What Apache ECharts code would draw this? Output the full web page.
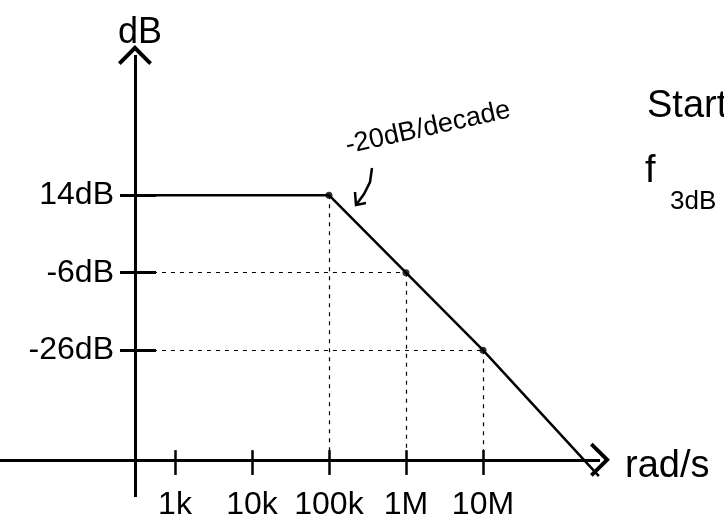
<!DOCTYPE html>
<html><head><meta charset="utf-8">
<script src="https://cdn.jsdelivr.net/npm/echarts@6/dist/echarts.min.js"></script>
<style>html,body{margin:0;padding:0;background:#fff}#c{width:724px;height:525px}</style>
</head><body><div id="c"></div>
<script>
// Data (rad/s, dB)
const freq = [302, 1e5, 1e6, 1e7, 3.2e8];
const gain = [14, 14, -6, -26, -58.5];
const cornerIdx = [1, 2, 3];
const xTicks = [1e3, 1e4, 1e5, 1e6, 1e7];
const xTickLabels = ['1k', '10k', '100k', '1M', '10M'];
const yTicks = [14, -6, -26];
const yTickLabels = ['14dB', '-6dB', '-26dB'];
const xRange = [5.34, 3.31e8];
const yRange = [-63.9, 50.2];
const axisCross = { x: 302, y: -54.3 };
const xTickSpan = [-51.8, -58.2];

const FONT = 'Liberation Sans';
const chev = 'path://M50,0 L100,52 L92,60 L50,17 L8,60 L0,52 Z';

function idxOf(arr, v) {
  for (let i = 0; i < arr.length; i++) {
    if (Math.abs(Math.log10(v) - Math.log10(arr[i])) < 1e-6) return i;
  }
  return -1;
}

const guides = [];
cornerIdx.forEach(i => {
  guides.push([{ coord: [freq[i], gain[i]] }, { coord: [freq[i], axisCross.y] }]);
  if (gain[i] !== gain[0]) guides.push([{ coord: [axisCross.x, gain[i]] }, { coord: [freq[i], gain[i]] }]);
});
const tickMarks = xTicks.map(t => [{ coord: [t, xTickSpan[0]] }, { coord: [t, xTickSpan[1]] }]);

const chart = echarts.init(document.getElementById('c'), null, { renderer: 'canvas' });
chart.setOption({
  backgroundColor: '#fff',
  animation: false,
  grid: { left: 0, right: 124, top: 55, bottom: 28, containLabel: false },
  xAxis: {
    type: 'log', logBase: 10, min: xRange[0], max: xRange[1],
    position: 'bottom', offset: -46,
    axisLine: { show: false },
    splitLine: { show: false },
    axisTick: { show: false },
    axisLabel: {
      customValues: xTicks, margin: 38, color: '#000', fontFamily: FONT, fontSize: 32,
      formatter: v => { const k = idxOf(xTicks, v); return k >= 0 ? xTickLabels[k] : ''; }
    }
  },
  yAxis: {
    type: 'value', min: yRange[0], max: yRange[1],
    position: 'left', offset: -120,
    axisLine: { show: false },
    splitLine: { show: false },
    axisTick: { show: true, inside: true, customValues: yTicks, length: 36, lineStyle: { color: '#000', width: 3 } },
    axisLabel: {
      customValues: yTicks, margin: 6, color: '#000', fontFamily: FONT, fontSize: 32,
      formatter: v => { const k = yTicks.indexOf(Math.round(v)); return k >= 0 ? yTickLabels[k] : ''; }
    }
  },
  series: [
    {
      type: 'line', clip: false, silent: true, symbol: 'none',
      data: [],
      markLine: {
        silent: true, animation: false, label: { show: false },
        symbol: ['none', chev], symbolSize: [34, 20],
        lineStyle: { color: '#000', width: 3, type: 'solid' },
        data: [
          [{ coord: [xRange[0], axisCross.y] }, { coord: [xRange[1], axisCross.y] }],
          [{ coord: [axisCross.x, yRange[0]] }, { coord: [axisCross.x, yRange[1]] }]
        ]
      }
    },
    {
      type: 'line', clip: false, silent: true, symbol: 'none',
      data: [],
      markLine: {
        silent: true, animation: false, label: { show: false },
        symbol: ['none', 'none'],
        lineStyle: { color: '#000', width: 2.5, type: 'solid' },
        data: tickMarks
      }
    },
    {
      type: 'line', clip: false, silent: true, symbol: 'none',
      data: freq.map((f, i) => [f, gain[i]]),
      lineStyle: { color: '#000', width: 2.5 },
      markLine: {
        silent: true, animation: false, label: { show: false },
        symbol: ['none', 'none'],
        lineStyle: { color: '#000', width: 1.2, type: [4, 5] },
        data: guides
      }
    },
    {
      type: 'scatter', silent: true, symbol: 'circle', symbolSize: 7,
      itemStyle: { color: '#000' },
      data: cornerIdx.map(i => [freq[i], gain[i]])
    }
  ],
  graphic: [
    { type: 'text', x: 140, y: 33, style: { text: 'dB', font: '36px ' + FONT, fill: '#000', align: 'center', verticalAlign: 'middle' } },
    { type: 'text', x: 625, y: 467, style: { text: 'rad/s', font: '38px ' + FONT, fill: '#000', align: 'left', verticalAlign: 'middle' } },
    { type: 'text', x: 428, y: 128, rotation: 0.218, style: { text: '-20dB/decade', font: '27px ' + FONT, fill: '#000', align: 'center', verticalAlign: 'middle' } },
    { type: 'polyline', shape: { points: [[372, 168], [370, 182], [364, 194], [356, 205]] }, style: { stroke: '#000', lineWidth: 2.5, fill: null } },
    { type: 'polyline', shape: { points: [[355, 192], [356, 205], [366, 203]] }, style: { stroke: '#000', lineWidth: 2.5, fill: null } },
    { type: 'text', x: 647, y: 107, style: { text: 'Start', font: '38px ' + FONT, fill: '#000', align: 'left', verticalAlign: 'middle' } },
    { type: 'text', x: 645, y: 172, style: { text: 'f', font: '38px ' + FONT, fill: '#000', align: 'left', verticalAlign: 'middle' } },
    { type: 'text', x: 670, y: 202, style: { text: '3dB', font: '26px ' + FONT, fill: '#000', align: 'left', verticalAlign: 'middle' } }
  ]
});
</script>
</body></html>
